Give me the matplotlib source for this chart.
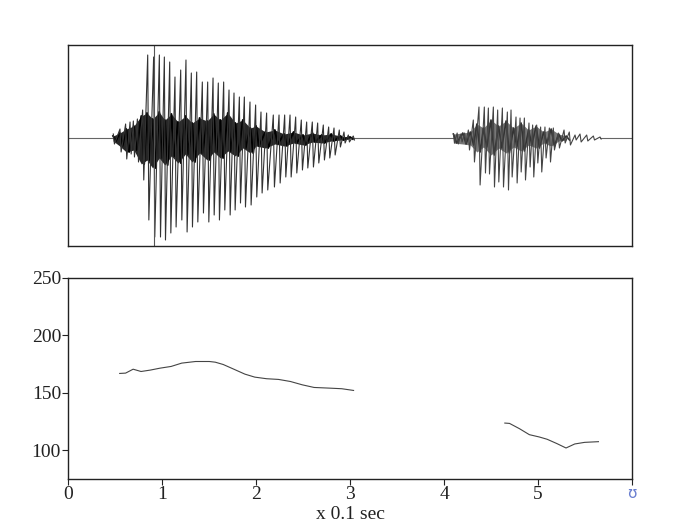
import matplotlib
matplotlib.use("Agg")
import matplotlib.pyplot as plt

plt.rcParams['font.family'] = ['Liberation Serif', 'DejaVu Serif']

# ---------------- data (time in units of 0.1 s) ----------------
# Waveform burst 1: spike times, positive peaks, negative peaks
w1_t = [0.482, 0.553, 0.613, 0.660, 0.695, 0.738, 0.794, 0.848, 0.911, 0.972,
        1.025, 1.082, 1.138, 1.199, 1.255, 1.312, 1.369, 1.429, 1.486, 1.543,
        1.599, 1.656, 1.713, 1.766, 1.823, 1.876, 1.936, 1.996, 2.053, 2.113,
        2.184, 2.245, 2.305, 2.362, 2.422, 2.482, 2.539, 2.599, 2.656, 2.716,
        2.773, 2.830, 2.886, 2.936, 2.982, 3.035]
w1_top = [0.04, 0.09, 0.14, 0.16, 0.17, 0.19, 0.28, 0.83, 0.81, 0.83,
          0.81, 0.76, 0.61, 0.68, 0.78, 0.65, 0.66, 0.56, 0.56, 0.60,
          0.55, 0.56, 0.48, 0.45, 0.41, 0.41, 0.36, 0.33, 0.26, 0.25,
          0.23, 0.23, 0.23, 0.23, 0.21, 0.18, 0.16, 0.16, 0.15, 0.13,
          0.11, 0.10, 0.08, 0.06, 0.03, 0.02]
w1_bot = [-0.06, -0.14, -0.21, -0.16, -0.19, -0.24, -0.42, -0.82, -0.99, -0.99,
          -1.02, -0.95, -0.89, -0.82, -0.94, -0.89, -0.84, -0.75, -0.84, -0.77,
          -0.82, -0.72, -0.77, -0.72, -0.65, -0.69, -0.67, -0.59, -0.55, -0.52,
          -0.49, -0.45, -0.39, -0.39, -0.35, -0.32, -0.30, -0.29, -0.25, -0.22,
          -0.20, -0.17, -0.09, -0.05, -0.04, -0.02]

# Dense inner (ragged) part of burst 1
d1_t = [0.48, 0.55, 0.62, 0.70, 0.78, 0.84, 0.90, 0.97, 1.03, 1.10, 1.17,
        1.25, 1.32, 1.40, 1.48, 1.55, 1.62, 1.70, 1.78, 1.86, 1.94, 2.00,
        2.10, 2.20, 2.30, 2.40, 2.50, 2.60, 2.70, 2.80, 2.90, 3.00]
d1_up = [0.02, 0.05, 0.09, 0.12, 0.22, 0.25, 0.19, 0.26, 0.18, 0.24, 0.16,
         0.22, 0.15, 0.20, 0.17, 0.24, 0.18, 0.25, 0.15, 0.18, 0.10, 0.12,
         0.06, 0.08, 0.04, 0.06, 0.03, 0.05, 0.03, 0.04, 0.02, 0.01]
d1_lo = [-0.03, -0.08, -0.14, -0.12, -0.26, -0.22, -0.30, -0.20, -0.27, -0.18,
         -0.25, -0.16, -0.24, -0.15, -0.22, -0.14, -0.20, -0.13, -0.18, -0.10,
         -0.15, -0.08, -0.10, -0.06, -0.08, -0.05, -0.07, -0.04, -0.05, -0.03,
         -0.02, -0.01]

# Waveform burst 2
w2_t = [4.100, 4.140, 4.180, 4.220, 4.259, 4.312, 4.372, 4.429, 4.472, 4.525,
        4.571, 4.621, 4.674, 4.713, 4.766, 4.809, 4.855, 4.904, 4.943, 4.986,
        5.028, 5.074, 5.121, 5.163, 5.216, 5.277, 5.333, 5.394, 5.447, 5.518,
        5.589, 5.660]
w2_top = [0.04, 0.05, 0.04, 0.05, 0.08, 0.18, 0.31, 0.31, 0.30, 0.31,
          0.28, 0.30, 0.26, 0.28, 0.21, 0.20, 0.20, 0.15, 0.13, 0.13,
          0.11, 0.11, 0.10, 0.10, 0.05, 0.08, 0.06, 0.03, 0.04, 0.03,
          0.02, 0.01]
w2_bot = [-0.05, -0.06, -0.04, -0.05, -0.12, -0.24, -0.47, -0.35, -0.36, -0.49,
          -0.44, -0.49, -0.52, -0.39, -0.45, -0.34, -0.42, -0.29, -0.39, -0.25,
          -0.34, -0.20, -0.24, -0.12, -0.10, -0.05, -0.07, -0.02, -0.04, -0.03,
          -0.02, -0.01]

d2_t = [4.10, 4.20, 4.28, 4.35, 4.42, 4.50, 4.58, 4.66, 4.74, 4.82, 4.90,
        4.98, 5.06, 5.14, 5.22, 5.30]
d2_up = [0.04, 0.05, 0.06, 0.14, 0.10, 0.18, 0.12, 0.17, 0.10, 0.15, 0.08,
         0.12, 0.06, 0.09, 0.04, 0.02]
d2_lo = [-0.05, -0.06, -0.07, -0.14, -0.09, -0.17, -0.10, -0.15, -0.09,
         -0.13, -0.07, -0.10, -0.05, -0.08, -0.03, -0.02]

cursor_t = 0.911

# Pitch contour (Hz)
p1_t = [0.550, 0.613, 0.693, 0.777, 0.874, 0.979, 1.097, 1.210, 1.357, 1.504,
        1.567, 1.651, 1.756, 1.882, 1.987, 2.113, 2.239, 2.366, 2.492, 2.618,
        2.786, 2.912, 3.038]
p1_f = [166.9, 167.2, 170.6, 168.6, 169.8, 171.5, 173.0, 175.9, 177.3, 177.3,
        176.7, 174.7, 170.9, 166.3, 163.7, 162.3, 161.7, 159.9, 157.0, 154.7,
        154.1, 153.6, 152.1]
p2_t = [4.647, 4.697, 4.803, 4.908, 5.013, 5.097, 5.202, 5.298, 5.391, 5.496, 5.643]
p2_f = [123.7, 123.4, 118.8, 113.6, 111.6, 109.6, 105.8, 102.0, 105.5, 106.9, 107.5]

x_ticks = [0, 1, 2, 3, 4, 5, 6]
x_labels = ['0', '1', '2', '3', '4', '5', 'ʊ']
y_ticks = [100, 150, 200, 250]
x_label = 'x 0.1 sec'


def zigzag(ts, tops, bots, dt=0.012):
    xs, ys = [], []
    for t, a, b in zip(ts, tops, bots):
        xs += [t, t + dt]
        ys += [a, b]
    return xs, ys


fig = plt.figure(figsize=(7, 5.25), dpi=100)
ax1 = fig.add_axes([68 / 700, 1 - 246 / 525, 564 / 700, 201 / 525])
ax2 = fig.add_axes([68 / 700, 1 - 479 / 525, 564 / 700, 201 / 525])

# --- waveform ---
ax1.plot([0, w1_t[0]], [0, 0], color='#666666', lw=0.8)
ax1.plot([w1_t[-1], w2_t[0]], [0, 0], color='#666666', lw=0.8)
ax1.plot([w2_t[-1], 6], [0, 0], color='#666666', lw=0.8)
ax1.fill_between(d1_t, d1_lo, d1_up, color='black', lw=0, alpha=0.85)
ax1.fill_between(d2_t, d2_lo, d2_up, color='#555555', lw=0, alpha=0.8)
xs, ys = zigzag(d1_t, d1_up, d1_lo, dt=0.03)
ax1.plot(xs, ys, color='black', lw=1.4)
xs, ys = zigzag(d2_t, d2_up, d2_lo, dt=0.035)
ax1.plot(xs, ys, color='#333333', lw=1.2)
xs, ys = zigzag(w1_t, w1_top, w1_bot)
ax1.plot(xs, ys, color='#333333', lw=0.8)
xs, ys = zigzag(w2_t, w2_top, w2_bot)
ax1.plot(xs, ys, color='#444444', lw=0.8)
ax1.axvline(cursor_t, color='#555555', lw=0.8)
ax1.set_xlim(0, 6)
ax1.set_ylim(-1.08, 0.93)
ax1.set_xticks([])
ax1.set_yticks([])
for s in ax1.spines.values():
    s.set_color('#222222')
    s.set_linewidth(1.0)

# --- pitch ---
ax2.plot(p1_t, p1_f, color='#444444', lw=0.8)
ax2.plot(p2_t, p2_f, color='#444444', lw=0.8)
ax2.set_xlim(0, 6)
ax2.set_ylim(75, 250)
ax2.set_xticks(x_ticks)
ax2.set_xticklabels(x_labels)
ax2.set_yticks(y_ticks)
ax2.tick_params(axis='both', direction='out', length=4, width=0.8,
                labelsize=14, colors='#222222', pad=1)
lbl = ax2.get_xticklabels()[-1]
lbl.set_color('#6a7fd0')
lbl.set_fontsize(11)
lbl.set_family(['DejaVu Sans'])
ax2.set_xlabel(x_label, fontsize=14, labelpad=2, color='#222222')
for s in ax2.spines.values():
    s.set_color('#222222')
    s.set_linewidth(1.0)

fig.savefig('out.png', dpi=100)
